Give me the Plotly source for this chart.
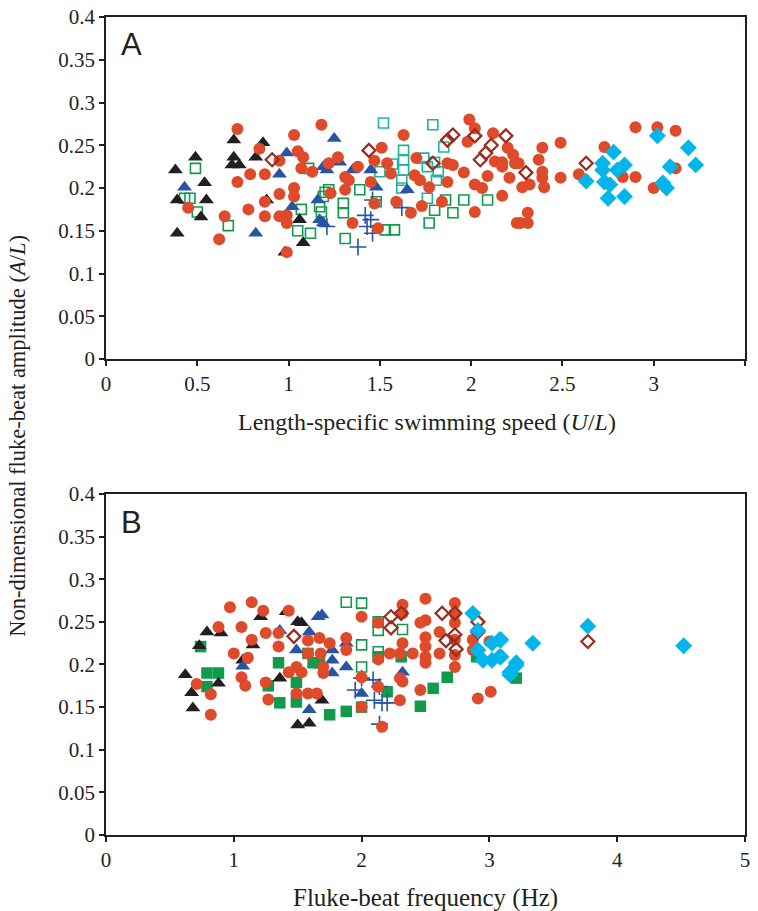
import plotly.graph_objects as go

# ---------------- Panel A data (x = U/L, y = A/L) ----------------
blackA_x = [0.38,0.49,0.54,0.39,0.55,0.52,0.39,0.70,0.70,0.73,0.69,0.86,0.82,0.88,1.06,0.98,1.08]
blackA_y = [0.221,0.236,0.206,0.186,0.186,0.166,0.147,0.256,0.236,0.227,0.227,0.253,0.236,0.186,0.163,0.125,0.136]

blueA_x = [0.43,0.82,0.95,0.99,1.02,1.16,1.17,1.19,1.25,1.28,1.21,1.35,1.45,1.48,1.65,1.19]
blueA_y = [0.201,0.147,0.216,0.241,0.178,0.186,0.163,0.225,0.258,0.230,0.221,0.221,0.221,0.201,0.198,0.159]

plusA_x = [1.62,1.46,1.42,1.45,1.43,1.46,1.38,1.21]
plusA_y = [0.177,0.186,0.168,0.163,0.155,0.147,0.131,0.155]

redA_x = [0.72,0.84,0.95,1.03,1.05,1.08,1.07,1.13,1.18,1.22,0.79,0.87,0.72,0.45,0.65,0.78,0.87,0.87,0.95,1.03,1.03,0.95,0.99,0.99,0.62,0.99,1.23,
          1.63,1.51,1.27,1.38,1.47,1.54,1.56,1.31,1.33,1.45,1.31,1.47,1.35,1.49,1.59,1.67,1.73,1.84,1.70,1.69,1.72,1.77,1.87,1.90,1.96,1.87,
          1.99,2.02,1.98,2.12,2.02,2.06,2.09,2.17,2.02,2.13,2.17,2.20,2.23,2.24,2.21,2.25,2.17,2.26,2.28,2.32,2.39,2.37,2.39,2.39,2.40,2.49,
          2.49,2.31,2.27,2.31,2.59,2.73,2.90,3.02,3.12,2.90,2.83,3.00,3.12]
redA_y = [0.269,0.246,0.232,0.262,0.243,0.236,0.223,0.219,0.274,0.229,0.216,0.216,0.207,0.177,0.167,0.175,0.184,0.167,0.193,0.200,0.190,0.167,0.168,0.159,0.140,0.125,0.194,
          0.262,0.247,0.236,0.225,0.232,0.229,0.217,0.213,0.209,0.207,0.198,0.182,0.159,0.153,0.184,0.171,0.179,0.184,0.235,0.215,0.209,0.201,0.229,0.227,0.218,0.207,
          0.280,0.270,0.254,0.264,0.204,0.200,0.214,0.191,0.172,0.231,0.225,0.247,0.239,0.229,0.212,0.159,0.230,0.229,0.201,0.204,0.247,0.233,0.219,0.212,0.201,0.253,
          0.212,0.171,0.159,0.159,0.216,0.248,0.271,0.271,0.267,0.213,0.213,0.200,0.223]

greenA_x = [0.49,0.43,0.46,0.50,0.67,1.07,1.05,1.12,1.11,1.17,1.18,1.19,1.22,1.30,1.30,1.20,1.31,1.39,1.53,1.58,1.80,1.77,1.90,1.96,2.09,1.86,1.48]
greenA_y = [0.223,0.188,0.188,0.172,0.156,0.175,0.150,0.147,0.223,0.178,0.172,0.190,0.198,0.182,0.171,0.195,0.141,0.198,0.151,0.151,0.174,0.159,0.171,0.186,0.186,0.186,0.184]

tealA_x = [1.52,1.79,1.85,1.63,1.63,1.63,1.62,1.62,1.57,1.74,1.76,1.80,1.82,1.81,1.76,1.50]
tealA_y = [0.276,0.274,0.248,0.244,0.233,0.221,0.209,0.200,0.228,0.235,0.225,0.230,0.219,0.209,0.188,0.219]

dmdA_x = [0.91,1.44,1.79,1.87,1.90,2.02,2.11,2.08,2.05,2.19,2.30,2.63]
dmdA_y = [0.233,0.244,0.229,0.256,0.262,0.261,0.250,0.241,0.233,0.261,0.218,0.229]

cyanA_x = [2.78,2.72,2.72,2.63,2.73,2.76,2.80,2.84,2.75,2.84,3.02,3.09,3.05,3.07,3.19,3.23]
cyanA_y = [0.242,0.229,0.221,0.208,0.207,0.204,0.221,0.227,0.188,0.190,0.261,0.225,0.206,0.200,0.247,0.227]

# ---------------- Panel B data (x = frequency Hz, y = A/L) ----------------
blackB_x = [0.62,0.67,0.68,0.79,0.90,0.73,0.88,1.07,1.15,1.21,1.41,1.50,1.36,1.50,1.59,1.69,1.53]
blackB_y = [0.188,0.167,0.149,0.238,0.237,0.222,0.178,0.205,0.223,0.256,0.262,0.250,0.184,0.129,0.131,0.158,0.249]

blueB_x = [1.36,1.07,1.59,1.66,1.49,1.59,1.69,1.77,1.88,1.77,1.88,1.77,2.32,2.00]
blueB_y = [0.240,0.198,0.238,0.256,0.217,0.147,0.258,0.217,0.225,0.205,0.197,0.190,0.191,0.166]

gsqB_x = [0.74,0.79,0.88,0.79,1.35,1.36,1.27,1.49,1.49,1.58,1.62,1.75,1.88,2.00,2.20,2.46,2.56,2.67,2.13,2.31,1.67,2.90,3.21]
gsqB_y = [0.221,0.190,0.190,0.174,0.202,0.155,0.175,0.179,0.156,0.213,0.202,0.141,0.145,0.150,0.168,0.151,0.172,0.185,0.209,0.209,0.202,0.209,0.184]

gopenB_x = [1.88,2.00,2.13,2.13,2.32,2.00,2.00,2.13]
gopenB_y = [0.273,0.272,0.250,0.240,0.241,0.223,0.197,0.215]

plusB_x = [2.00,1.95,2.09,2.14,2.10,2.16,2.20,2.14]
plusB_y = [0.184,0.170,0.182,0.174,0.158,0.155,0.155,0.130]

redB_x = [0.97,1.14,1.23,0.88,1.06,1.14,1.25,1.35,1.43,1.00,1.11,1.35,1.58,1.58,1.06,1.09,1.25,0.71,0.82,1.27,1.49,1.43,1.53,1.49,1.58,1.65,0.82,
          1.67,1.75,1.68,1.70,1.70,1.88,1.88,2.00,2.00,2.00,2.13,2.13,2.13,2.16,2.22,2.32,2.32,2.32,2.30,2.40,2.30,2.32,2.30,2.46,2.50,2.50,
          2.50,2.50,2.50,2.50,2.46,2.61,2.61,2.73,2.73,2.73,2.73,2.73,2.73,2.87,2.87,2.91,3.01,3.00]
redB_y = [0.267,0.273,0.263,0.244,0.244,0.229,0.237,0.237,0.263,0.213,0.208,0.221,0.228,0.213,0.185,0.175,0.179,0.177,0.165,0.159,0.197,0.191,0.191,0.166,0.166,0.166,0.141,
          0.231,0.225,0.213,0.197,0.190,0.231,0.217,0.256,0.185,0.150,0.249,0.206,0.174,0.127,0.213,0.270,0.260,0.225,0.213,0.213,0.184,0.180,0.158,0.249,0.252,0.277,
          0.232,0.221,0.209,0.202,0.170,0.238,0.213,0.272,0.260,0.249,0.229,0.211,0.197,0.229,0.217,0.160,0.168,0.227]

dmdB_x = [1.47,2.23,2.31,2.23,2.63,2.73,2.66,2.73,2.74,2.91,2.91,3.77]
dmdB_y = [0.233,0.256,0.260,0.243,0.260,0.260,0.228,0.235,0.218,0.250,0.238,0.227]

cyanB_x = [2.87,2.91,2.91,2.95,3.02,3.08,3.02,3.08,3.16,3.21,3.09,3.09,3.34,3.77,4.52,3.21,3.16]
cyanB_y = [0.260,0.240,0.217,0.205,0.225,0.229,0.205,0.209,0.191,0.199,0.229,0.209,0.225,0.245,0.222,0.202,0.188]

y_ticks = [0, 0.05, 0.1, 0.15, 0.2, 0.25, 0.3, 0.35, 0.4]
y_ticktext = ["0", "0.05", "0.1", "0.15", "0.2", "0.25", "0.3", "0.35", "0.4"]
xA_ticks = [0, 0.5, 1, 1.5, 2, 2.5, 3, 3.5]
xA_ticktext = ["0", "0.5", "1", "1.5", "2", "2.5", "3", "3.5"]
xB_ticks = [0, 1, 2, 3, 4, 5]
xB_ticktext = ["0", "1", "2", "3", "4", "5"]

# ---------------- styles ----------------
RED = "#df4a2b"
BLACK = "#231f20"
BLUE = "#2755a6"
GREEN = "#0f9a4c"
TEAL = "#1db49c"
DRED = "#9b2b1e"
CYAN = "#04b5ec"

def tri(color):
    return dict(symbol="triangle-up", size=13, color=color, line=dict(width=0))

def circ():
    return dict(symbol="circle", size=12, color=RED, line=dict(width=0))

def osq(color):
    return dict(symbol="square-open", size=10, color=color, line=dict(width=1.6, color=color))

def fsq():
    return dict(symbol="square", size=11.5, color=GREEN, line=dict(width=0))

def plus():
    return dict(symbol="cross-thin", size=12, color=BLUE, line=dict(width=1.6, color=BLUE))

def odmd():
    return dict(symbol="diamond-open", size=10, color=DRED, line=dict(width=2.2, color=DRED))

def fdmd():
    return dict(symbol="diamond", size=13, color=CYAN, line=dict(width=0))

fig = go.Figure()

def add(x, y, marker, xa, ya):
    fig.add_trace(go.Scatter(x=x, y=y, mode="markers", marker=marker,
                             xaxis=xa, yaxis=ya, showlegend=False, hoverinfo="x+y"))

# Panel A
add(greenA_x, greenA_y, osq(GREEN), "x", "y")
add(tealA_x, tealA_y, osq(TEAL), "x", "y")
add(blackA_x, blackA_y, tri(BLACK), "x", "y")
add(blueA_x, blueA_y, tri(BLUE), "x", "y")
add(plusA_x, plusA_y, plus(), "x", "y")
add(redA_x, redA_y, circ(), "x", "y")
add(dmdA_x, dmdA_y, odmd(), "x", "y")
add(cyanA_x, cyanA_y, fdmd(), "x", "y")

# Panel B
add(gsqB_x, gsqB_y, fsq(), "x2", "y2")
add(gopenB_x, gopenB_y, osq(GREEN), "x2", "y2")
add(blackB_x, blackB_y, tri(BLACK), "x2", "y2")
add(blueB_x, blueB_y, tri(BLUE), "x2", "y2")
add(plusB_x, plusB_y, plus(), "x2", "y2")
add(redB_x, redB_y, circ(), "x2", "y2")
add(dmdB_x, dmdB_y, odmd(), "x2", "y2")
add(cyanB_x, cyanB_y, fdmd(), "x2", "y2")

SERIF = "Liberation Serif"
SANS = "Liberation Sans"
INK = "#231f20"
tickfont = dict(family=SERIF, size=21, color=INK)

axis_common = dict(showline=True, linecolor=INK, linewidth=1.8, mirror=True,
                   ticks="outside", ticklen=5, tickwidth=1.5, tickcolor=INK,
                   showgrid=False, zeroline=False, tickfont=tickfont, automargin=False)

fig.update_layout(
    width=758, height=911,
    margin=dict(l=106, r=13, t=17, b=76, autoexpand=False),
    paper_bgcolor="white", plot_bgcolor="white",
    xaxis=dict(domain=[0, 1], range=[0, 3.5], anchor="y",
               tickvals=xA_ticks, ticktext=xA_ticktext, **axis_common),
    yaxis=dict(domain=[0.5819, 1], range=[0, 0.4], anchor="x",
               tickvals=y_ticks, ticktext=y_ticktext, **axis_common),
    xaxis2=dict(domain=[0, 1], range=[0, 5], anchor="y2",
                tickvals=xB_ticks, ticktext=xB_ticktext, **axis_common),
    yaxis2=dict(domain=[0, 0.4169], range=[0, 0.4], anchor="x2",
                tickvals=y_ticks, ticktext=y_ticktext, **axis_common),
    annotations=[
        dict(text="A", x=0.04, y=0.966, xref="paper", yref="paper", xanchor="center", yanchor="middle",
             showarrow=False, font=dict(family=SANS, size=31, color=INK)),
        dict(text="B", x=0.04, y=0.3826, xref="paper", yref="paper", xanchor="center", yanchor="middle",
             showarrow=False, font=dict(family=SANS, size=31, color=INK)),
        dict(text="Length-specific swimming speed (<i>U</i>/<i>L</i>)", x=0.502, y=0.5049,
             xref="paper", yref="paper", xanchor="center", yanchor="middle", showarrow=False,
             font=dict(family=SERIF, size=24, color=INK)),
        dict(text="Fluke-beat frequency (Hz)", x=0.50, y=-0.077,
             xref="paper", yref="paper", xanchor="center", yanchor="middle", showarrow=False,
             font=dict(family=SERIF, size=25, color=INK)),
        dict(text="Non-dimensional fluke-beat amplitude (<i>A</i>/<i>L</i>)", x=-0.138, y=0.4878,
             xref="paper", yref="paper", xanchor="center", yanchor="middle", textangle=-90,
             showarrow=False, font=dict(family=SERIF, size=22.5, color=INK)),
    ],
)

fig.write_html("out.html", config={"displayModeBar": False},
               post_script="document.body.style.margin='0';document.body.style.padding='0';")
